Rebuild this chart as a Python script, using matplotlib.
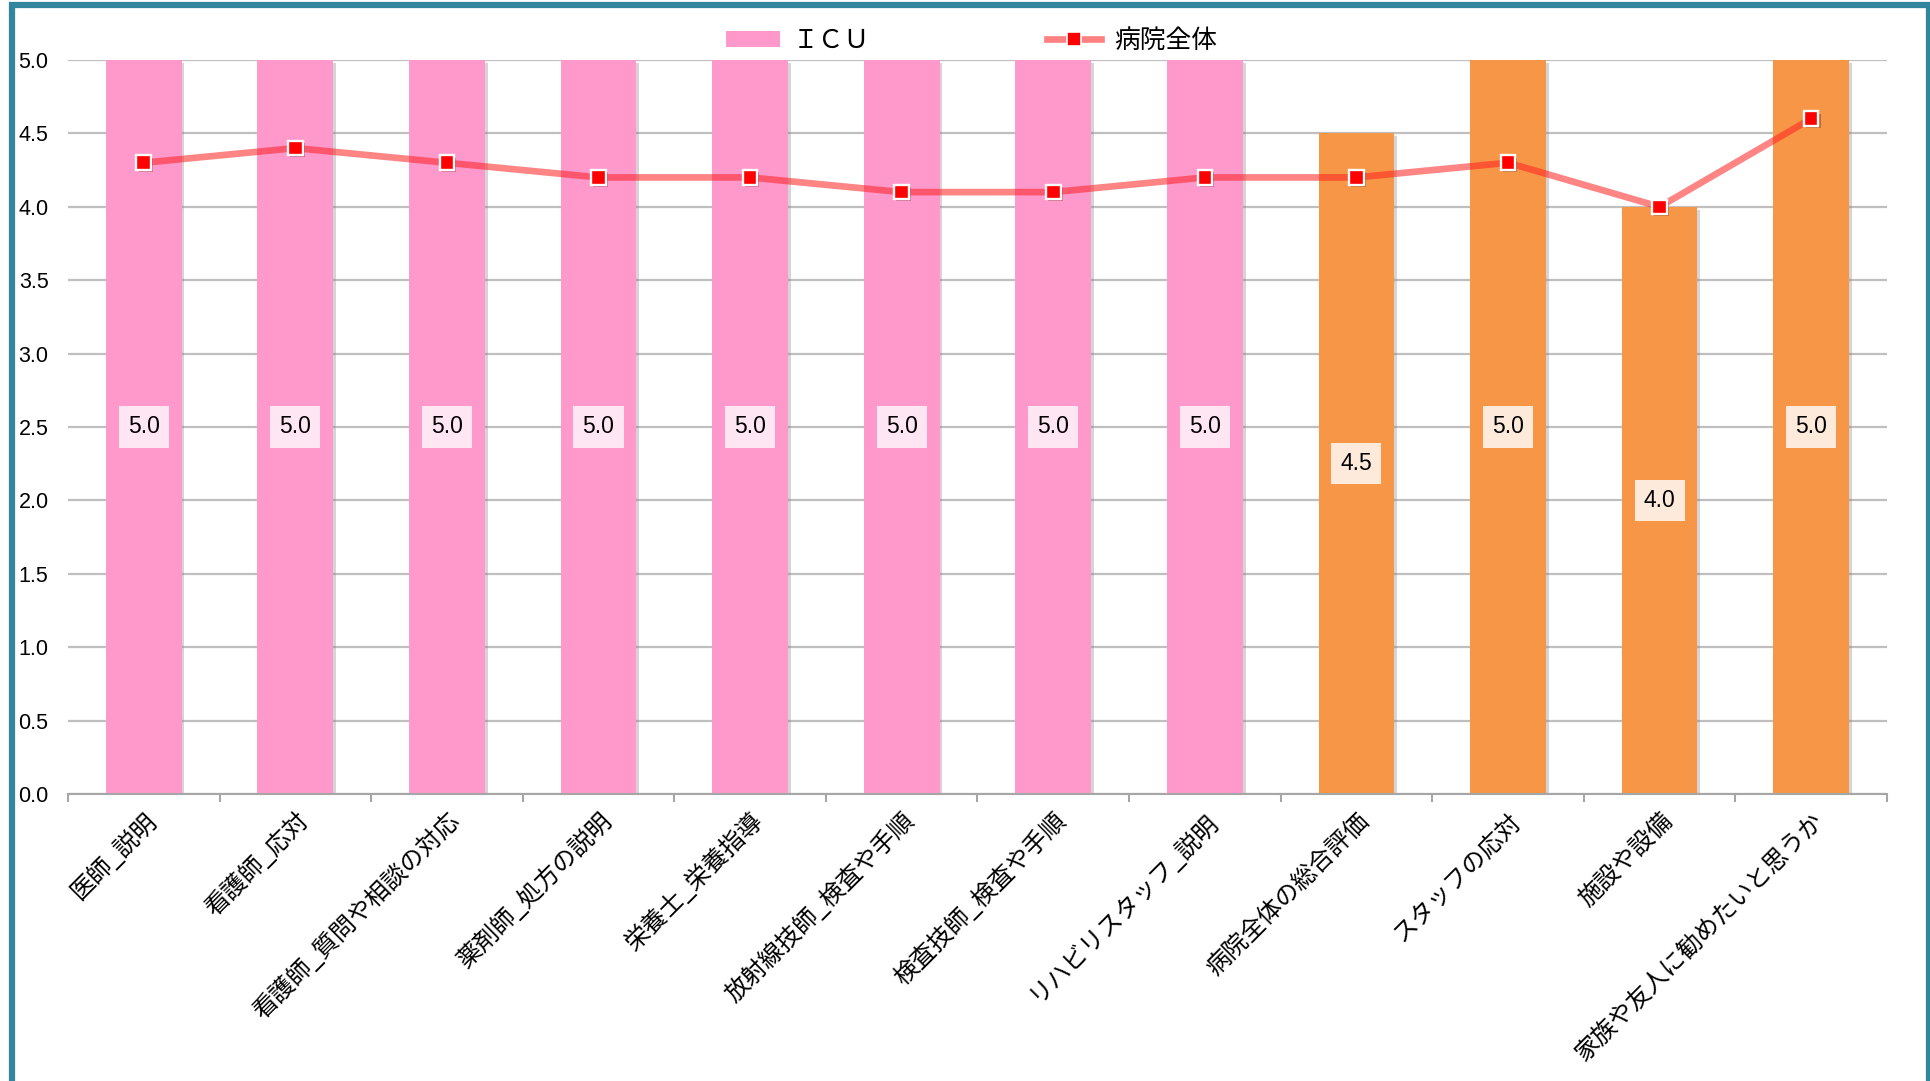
import numpy as np
import matplotlib
matplotlib.use("Agg")
import matplotlib.pyplot as plt
import matplotlib.patheffects as pe
from matplotlib.patches import Rectangle

plt.rcParams['font.family'] = ['Noto Sans CJK JP', 'DejaVu Sans']

# data
categories = ['医師_説明', '看護師_応対', '看護師_質問や相談の対応', '薬剤師_処方の説明',
              '栄養士_栄養指導', '放射線技師_検査や手順', '検査技師_検査や手順',
              'リハビリスタッフ_説明', '病院全体の総合評価', 'スタッフの応対',
              '施設や設備', '家族や友人に勧めたいと思うか']
icu = [5.0, 5.0, 5.0, 5.0, 5.0, 5.0, 5.0, 5.0, 4.5, 5.0, 4.0, 5.0]
hospital = [4.3, 4.4, 4.3, 4.2, 4.2, 4.1, 4.1, 4.2, 4.2, 4.3, 4.0, 4.6]
yticks = [0.0, 0.5, 1.0, 1.5, 2.0, 2.5, 3.0, 3.5, 4.0, 4.5, 5.0]

pink = '#FF99CC'
orange = '#F79646'
bar_colors = [pink] * 8 + [orange] * 4
box_colors = ['#FFE6F2'] * 8 + ['#FDEADA'] * 4

fig = plt.figure(figsize=(19.31, 10.81), dpi=100)
ax = fig.add_axes([0.0352, 0.2655, 0.9420, 0.679])

x = np.arange(len(categories))

# gridlines
ax.set_axisbelow(True)
ax.yaxis.grid(True, color='#BFBFBF', linewidth=1.6)

bars = ax.bar(x, icu, width=0.5, color=bar_colors, zorder=2,
              path_effects=[pe.SimplePatchShadow(offset=(2, -2), shadow_rgbFace='#888888', alpha=0.35),
                            pe.Normal()])

# data labels in the middle of bars
for xi, v, bc in zip(x, icu, box_colors):
    ax.text(xi, v / 2, f'{v:.1f}', ha='center', va='center', fontsize=16.5,
            family=['Liberation Sans', 'DejaVu Sans'], zorder=5,
            bbox=dict(boxstyle='square,pad=0.4', fc=bc, ec='none'))

# line for hospital overall
ax.plot(x, hospital, color='#FF2020', alpha=0.55, linewidth=4.8, zorder=3,
        solid_capstyle='round')
ax.plot(x, hospital, linestyle='none', marker='s', markersize=10.5, markerfacecolor='#FF0000',
        markeredgecolor='white', markeredgewidth=1.7, zorder=4,
        path_effects=[pe.SimplePatchShadow(offset=(1.5, -1.5), alpha=0.3), pe.Normal()])

ax.set_xlim(-0.5, len(categories) - 0.5)
ax.set_ylim(0, 5.0)
ax.set_yticks(yticks)
ax.set_yticklabels([f'{t:.1f}' for t in yticks], fontsize=15.5,
                   family=['Liberation Sans', 'DejaVu Sans'])
ax.tick_params(axis='y', length=0, pad=14)

ax.set_xticks(x)
ax.set_xticklabels(categories, rotation=45, ha='right', rotation_mode='anchor', fontsize=17.5)
ax.tick_params(axis='x', length=0, pad=10)
ax.set_xticks(np.arange(-0.5, len(categories)), minor=True)
ax.tick_params(axis='x', which='minor', length=6, width=1.5, color='#A6A6A6', direction='out')

for s in ['top', 'right', 'left']:
    ax.spines[s].set_visible(False)
ax.spines['bottom'].set_color('#A6A6A6')
ax.spines['bottom'].set_linewidth(1.5)

# legend
h_bar = Rectangle((0, 0), 1, 1, fc=pink, ec='none')
h_line, = ax.plot([], [], color='#FF8080', linewidth=4.8, marker='s', markersize=10,
                  markerfacecolor='#FF0000', markeredgecolor='white', markeredgewidth=1.2)
fig.legend([h_bar, h_line], ['ＩＣＵ', '病院全体'], loc='center', bbox_to_anchor=(0.503, 0.962),
           ncol=2, frameon=False, fontsize=18.5, columnspacing=6.9, handlelength=2.1,
           handletextpad=0.5, handleheight=0.6)

# outer teal frame (bottom edge runs off the image)
fig.patches.append(Rectangle((12 / 1931, -0.05), (1929 - 12) / 1931, 1.05 - 4.5 / 1081,
                             transform=fig.transFigure, fill=False, ec='#31859C',
                             linewidth=4.5, zorder=10))

fig.savefig('out.png', dpi=100)
